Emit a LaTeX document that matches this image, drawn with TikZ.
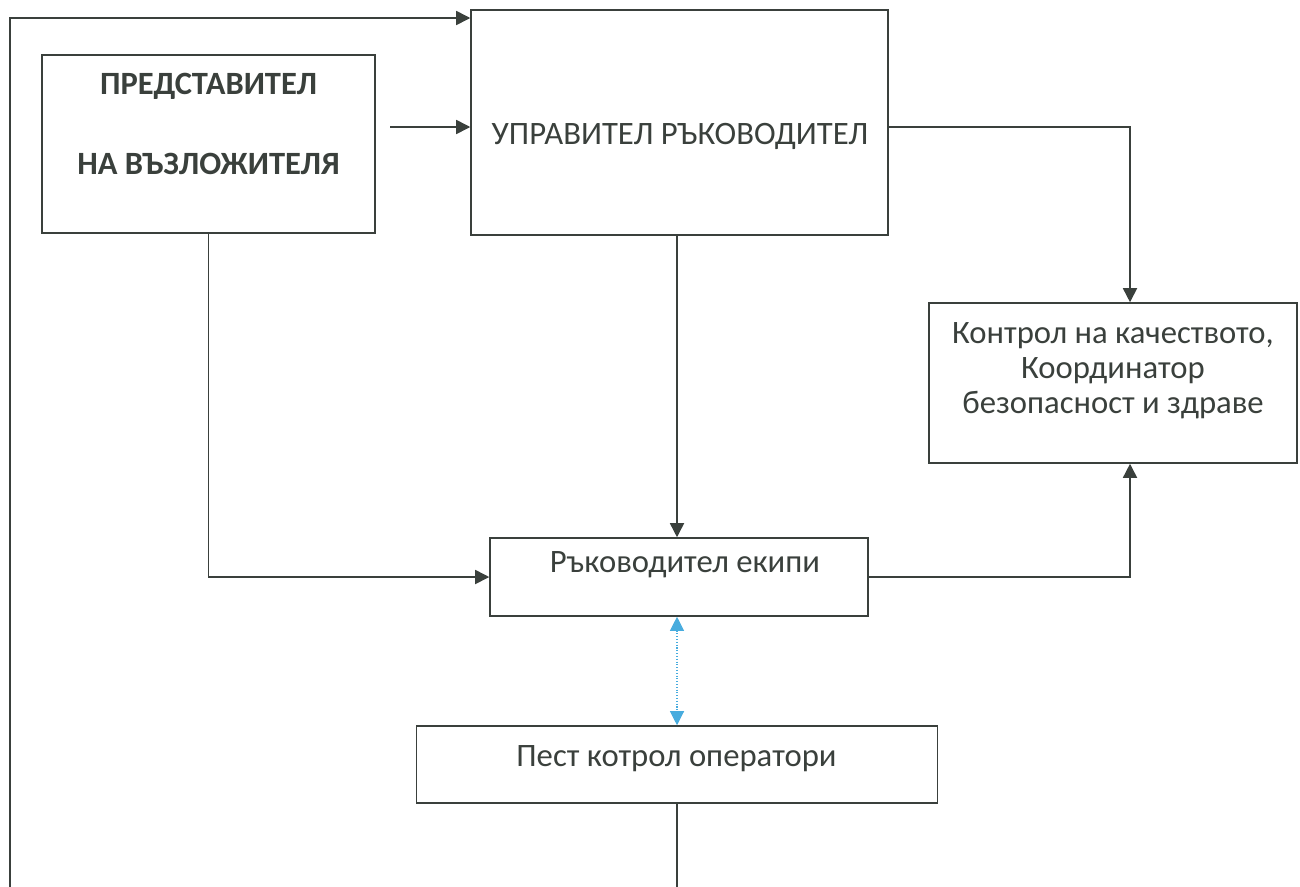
\documentclass[tikz,border=0pt]{standalone}
\usepackage{fontspec}
\setmainfont{Carlito}
\usetikzlibrary{arrows.meta}
\definecolor{ink}{RGB}{58,64,60}
\definecolor{link}{RGB}{72,172,222}
\tikzstyle{box} = [draw=ink, line width=0.9pt, inner sep=0pt]
\tikzstyle{txt} = [text=ink, font=\fontsize{18.6}{20}\selectfont, inner sep=0pt, align=center]
\tikzstyle{conn} = [draw=ink, line width=0.9pt, -{Triangle[length=8pt,width=8pt]}]

\begin{document}
\begin{tikzpicture}[x=0.02cm, y=-0.02cm]
			\useasboundingbox (0,0) rectangle (1300,886);
			% boxes
			\node[box, minimum width=6.66cm, minimum height=3.56cm] (repr) at (208.5,144) {};
			\node[box, minimum width=8.34cm, minimum height=4.5cm] (mgr) at (679.5,122.5) {};
			\node[box, minimum width=7.36cm, minimum height=3.2cm] (qual) at (1113,383) {};
			\node[box, minimum width=7.56cm, minimum height=1.56cm] (lead) at (679,577) {};
			\node[box, minimum width=10.42cm, minimum height=1.54cm] (oper) at (677,764.5) {};
			% texts
			\node[txt, font=\fontsize{18.5}{20}\selectfont\bfseries] (reprA) at (208.5,86) {ПРЕДСТАВИТЕЛ};
			\node[txt, font=\fontsize{18.5}{20}\selectfont\bfseries] (reprB) at (208.5,164) {НА ВЪЗЛОЖИТЕЛЯ};
			\node[txt] (mgrT) at (680,136) {УПРАВИТЕЛ РЪКОВОДИТЕЛ};
			\node[txt] (qualT) at (1113,371) {Контрол на качеството,\\Координатор\\безопасност и здраве};
			\node[txt] (leadT) at (685,565) {Ръководител екипи};
			\node[txt] (operT) at (676.5,759) {Пест котрол оператори};
			% connectors
			\coordinate (loopL) at (10,890);
			\coordinate (shortS) at (390,127);
			\draw[conn] (oper.south) |- (loopL) |- (mgr.west |- 0,18);
			\draw[conn] (shortS) -- (mgr.west |- shortS);
			\draw[conn] (repr.south) -- (repr.south |- lead.west) -- (lead.west);
			\draw[conn] (mgr.south -| 677,0) -- (lead.north -| 677,0);
			\draw[conn] (mgr.east |- shortS) -| (qual.north -| 1130,0);
			\draw[conn] (lead.east) -| (qual.south -| 1130,0);
			\draw[link, line width=0.6pt, densely dotted, {Triangle[length=8pt,width=8pt]}-{Triangle[length=8pt,width=8pt]}] (lead.south -| 677,0) -- (oper.north -| 677,0);
		\end{tikzpicture}
\end{document}
